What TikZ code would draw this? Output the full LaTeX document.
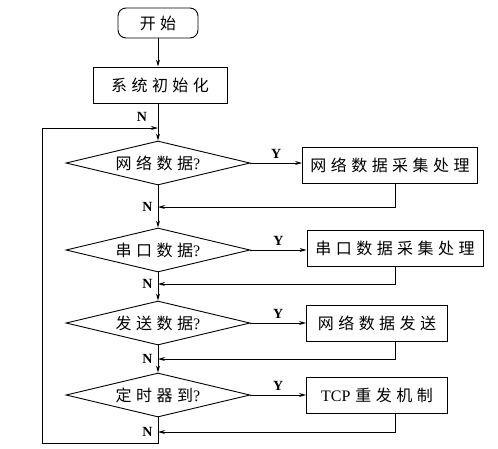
\documentclass[tikz,border=0pt]{standalone}
\usepackage{fontspec}
\setmainfont{Liberation Serif}
\newfontfamily\cjk[LetterSpace=28]{Noto Sans CJK SC}
\usetikzlibrary{shapes.geometric,arrows.meta}

\tikzset{
  startbox/.style={draw,rounded corners=8pt,minimum width=80,minimum height=30,
    inner sep=0pt,font=\cjk\fontsize{16}{18}\selectfont},
  procbox/.style={draw,minimum height=36,inner sep=0pt,
    font=\cjk\fontsize{16}{18}\selectfont},
  decbox/.style={draw,diamond,aspect=4.2,minimum width=184,minimum height=44,inner sep=0pt,
    font=\cjk\fontsize{16}{18}\selectfont},
  lab/.style={font=\bfseries\fontsize{14}{14}\selectfont,inner sep=1pt}
}

\begin{document}
\begin{tikzpicture}[x=1pt,y=-1pt,line width=0.9pt,>={Stealth[length=7pt,width=4pt]}]
  \useasboundingbox (0,0) rectangle (498,448);
  \def\xm{158} % main line
  \def\xl{42}  % loop back line

  % start and init
  \node[startbox] (start) at (\xm,23) {开始};
  \node[procbox,minimum width=134] (init) at (160,85) {系统初始化};
  \draw[->] (start) -- (start |- init.north);

  % decisions
  \node[decbox] (dnet)  at (\xm,163) {网络数据{\rmfamily ?}};
  \node[decbox] (dcom)  at (\xm,250) {串口数据{\rmfamily ?}};
  \node[decbox] (dsend) at (\xm,323) {发送数据{\rmfamily ?}};
  \node[decbox] (dtmr)  at (\xm,395) {定时器到{\rmfamily ?}};

  % actions
  \node[procbox,minimum width=175] (bnet)  at (390,165) {网络数据采集处理};
  \node[procbox,minimum width=176] (bcom)  at (395,248) {串口数据采集处理};
  \node[procbox,minimum width=141] (bsend) at (377,323) {网络数据发送};
  \node[procbox,minimum width=141] (btmr)  at (377,395) {\rmfamily TCP\hspace{5pt}\cjk 重发机制};

  % junctions on the main line
  \coordinate (j0) at (\xm,128);
  \coordinate (j1) at (\xm,207);
  \coordinate (j2) at (\xm,284);
  \coordinate (j3) at (\xm,359);
  \coordinate (j4) at (\xm,432);
  \coordinate (rx) at (395,0);
  \coordinate (bl) at (\xl,443);

  % main line
  \draw[->] (init.south -| j0) -- (dnet.north);
  \draw[->] (dnet.south) -- (dcom.north);
  \draw[->] (dcom.south) -- (dsend.north);
  \draw[->] (dsend.south) -- (dtmr.north);
  \draw[->] (dtmr.south) -- (bl -| j4) -- (bl) |- (j0);

  % yes branches
  \foreach \d/\b in {dnet/bnet,dcom/bcom,dsend/bsend,dtmr/btmr}
    {\draw[->] (\d.east) -- (\d.east -| \b.west) node[lab,midway,above=3pt]{Y};}

  % returns
  \draw[->] (bnet.south -| rx) |- (j1);
  \draw[->] (bcom.south -| rx) |- (j2);
  \draw[->] (bsend.south -| rx) |- (j3);
  \draw[->] (btmr.south -| rx) |- (j4);

  % no labels
  \node[lab] (n0) at (142,117) {N};
  \foreach \j in {1,...,4}
    {\node[lab,left=4pt] (n\j) at (j\j) {N};}
\end{tikzpicture}
\end{document}
